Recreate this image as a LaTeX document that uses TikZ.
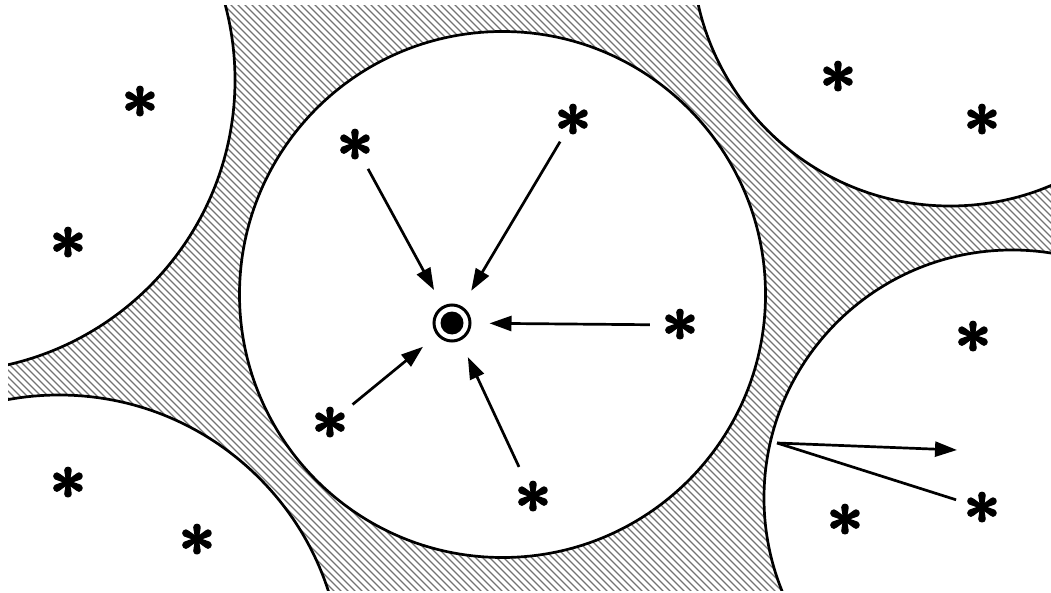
\documentclass[tikz,border=0pt]{standalone}
\usetikzlibrary{arrows.meta}
\newcommand{\bigast}{\scalebox{6.5}{\special{pdf:literal direct 2 Tr 0.3 w 1 j}$\ast$\special{pdf:literal direct 0 Tr}}}
\begin{document}
\begin{tikzpicture}[x=1pt,y=-1pt,
  ast/.style={circle, inner sep=0pt, minimum size=50pt, font=\boldmath},
  arr/.style={line width=2.7pt, -{Triangle[length=22pt,width=15pt]}},
  plain/.style={line width=2.7pt},
  rim/.style={line width=2.7pt},
  hatch/.style={line width=1.2pt, black!55}]
\useasboundingbox (0,0) rectangle (1051,593);
\begin{scope}
  \clip (8,6) rectangle (1051,590);
  \foreach \c in {-600,-593,...,1060} \draw[hatch] (\c,0) -- ++(600,600);
  \foreach \cx/\cy/\r in {502.5/294.5/263, -57/80/292, 950/-52/258, 1012/498/248, 59/678/283} {
    \fill[white] (\cx,\cy) circle[radius=\r pt];
    \draw[rim] (\cx,\cy) circle[radius=\r pt];
  }
\end{scope}
% asterisks
\node[ast] (l1) at (140,102) {\bigast};
\node[ast] (l2) at (68,243) {\bigast};
\node[ast] (l3) at (68,483) {\bigast};
\node[ast] (l4) at (197,540) {\bigast};
\node[ast] (t1) at (838,77) {\bigast};
\node[ast] (t2) at (982,120) {\bigast};
\node[ast] (r1) at (973,337) {\bigast};
\node[ast] (r2) at (845,520) {\bigast};
\node[ast] (r3) at (982,508) {\bigast};
\node[ast] (m1) at (355,145) {\bigast};
\node[ast] (m2) at (573,120) {\bigast};
\node[ast] (m3) at (680,325) {\bigast};
\node[ast] (m4) at (330,423) {\bigast};
\node[ast] (m5) at (533,497) {\bigast};
% centre
\node[circle, draw, line width=3pt, minimum size=36pt, inner sep=0pt] (c) at (452,323) {};
\node[circle, fill, minimum size=23pt, inner sep=0pt] (cd) at (c) {};
% arrows
\draw[arr, shorten <=2pt, shorten >=18pt] (m1) -- (c);
\draw[arr, shorten <=0pt, shorten >=18pt] (m2) -- (c);
\draw[arr, shorten <=5pt, shorten >=18pt] (m3) -- (c);
\draw[arr, shorten <=4pt, shorten >=18pt] (m4) -- (c);
\draw[arr, shorten <=8pt, shorten >=18pt] (m5) -- (c);
% right side
\coordinate (p) at (777,443);
\coordinate (q) at (957,450);
\draw[arr] (p) -- (q);
\draw[plain, shorten >=2pt] (p) -- (r3);
\end{tikzpicture}
\end{document}
